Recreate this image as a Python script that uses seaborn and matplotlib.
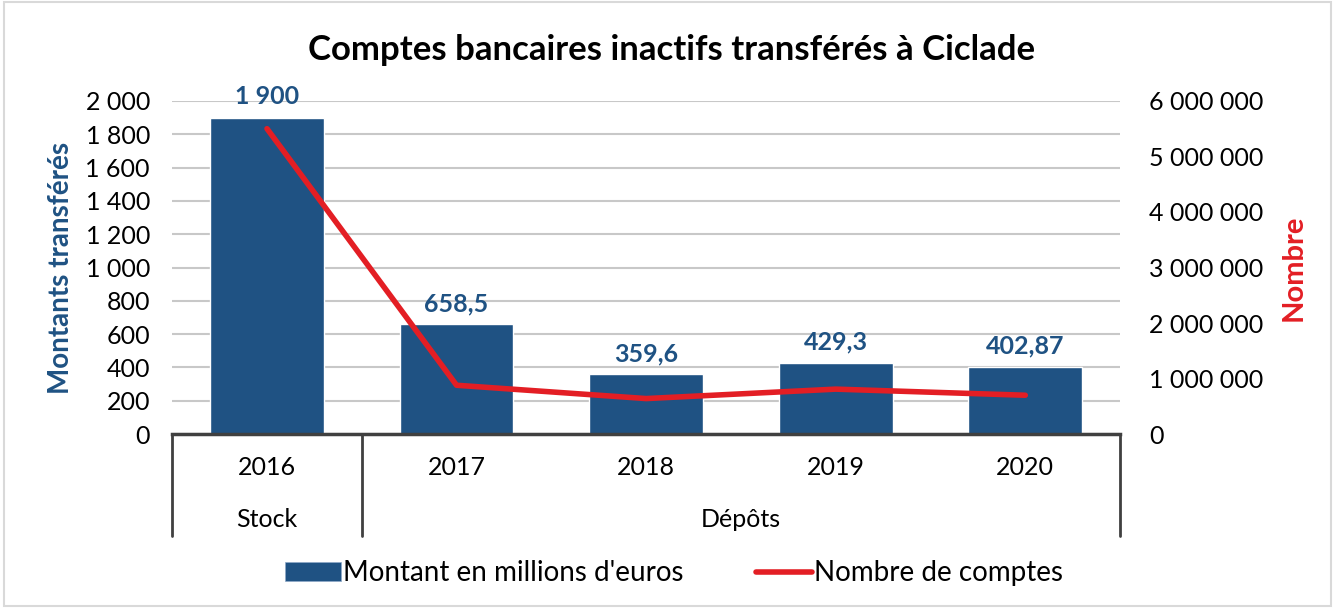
import numpy as np
import pandas as pd
import matplotlib
matplotlib.use("Agg")
import matplotlib.pyplot as plt
import matplotlib.transforms as mtransforms
from matplotlib.patches import Rectangle, Patch
from matplotlib.lines import Line2D
from matplotlib.ticker import FuncFormatter, MultipleLocator
import seaborn as sns

# Data
years = ["2016", "2017", "2018", "2019", "2020"]
groups = ["Stock", "Dépôts"]
group_sizes = [1, 4]
montants = [1900, 658.5, 359.6, 429.3, 402.87]
montant_labels = ["1 900", "658,5", "359,6", "429,3", "402,87"]
nombre_comptes = [5500000, 880000, 640000, 810000, 700000]

bar_color = "#1F5283"
line_color = "#E31E24"
text_color = "#1F5283"

sns.set_theme(style="white")
plt.rcParams["font.family"] = ["Lato", "DejaVu Sans"]
plt.rcParams["text.color"] = "black"

df = pd.DataFrame({
    "annee": years,
    "pos": np.arange(len(years)),
    "montant": montants,
    "nombre": nombre_comptes,
})


def space_thousands(v, pos=None):
    return f"{int(round(v)):,}".replace(",", " ")


fig = plt.figure(figsize=(13.35, 6.08), dpi=100)
ax = fig.add_axes([0.129, 0.286, 0.710, 0.548])

# Bars
sns.barplot(data=df, x="annee", y="montant", color=bar_color,
            width=0.6, saturation=1, ax=ax, zorder=2)
ax.set_xlim(-0.5, len(years) - 0.5)
ax.set_ylim(0, 2000)
ax.yaxis.set_major_locator(MultipleLocator(200))
ax.yaxis.set_major_formatter(FuncFormatter(space_thousands))
ax.grid(axis="y", color="#C8C8C8", linewidth=1.5, zorder=0)
ax.set_axisbelow(True)
for s in ["top", "right", "left"]:
    ax.spines[s].set_visible(False)
ax.spines["bottom"].set_color("#404040")
ax.spines["bottom"].set_linewidth(2.5)
ax.tick_params(axis="y", labelsize=18, colors="black", length=0, pad=16)
ax.tick_params(axis="x", length=0, labelbottom=False)
ax.set_xlabel("")
ax.set_ylabel("Montants transférés", fontsize=20, fontweight="bold",
              color=text_color, labelpad=8)

# Value labels
for p, lab in zip(ax.patches, montant_labels):
    ax.text(p.get_x() + p.get_width() / 2, p.get_height() + 55, lab,
            ha="center", va="bottom", fontsize=18, fontweight="bold",
            color=text_color)

# Line on secondary axis
ax2 = ax.twinx()
sns.lineplot(data=df, x="pos", y="nombre", color=line_color,
             linewidth=4, ax=ax2, zorder=3)
ax2.set_ylim(0, 6000000)
ax2.yaxis.set_major_locator(MultipleLocator(1000000))
ax2.yaxis.set_major_formatter(FuncFormatter(space_thousands))
ax2.tick_params(axis="y", labelsize=18, colors="black", length=0, pad=21)
for s in ["top", "right", "left", "bottom"]:
    ax2.spines[s].set_visible(False)
ax2.set_ylabel("Nombre", fontsize=21, fontweight="bold", color=line_color,
               labelpad=12)
ax2.set_xlim(-0.5, len(years) - 0.5)

# Two-level category axis
trans = mtransforms.blended_transform_factory(ax.transData, ax.transAxes)
box_bottom = -0.305
edges = [-0.5]
for n in group_sizes:
    edges.append(edges[-1] + n)
for e in edges:
    ax.add_line(Line2D([e, e], [0, box_bottom], transform=trans,
                       color="#404040", linewidth=2, clip_on=False))
for i, y in enumerate(years):
    ax.text(i, -0.1, y, transform=trans, ha="center", va="center",
            fontsize=18, color="black")
for g, a, b in zip(groups, edges[:-1], edges[1:]):
    ax.text((a + b) / 2, -0.255, g, transform=trans, ha="center",
            va="center", fontsize=18, color="black")

# Title
fig.text(0.503, 0.918, "Comptes bancaires inactifs transférés à Ciclade",
         ha="center", va="center", fontsize=25, fontweight="bold",
         color="black")

# Legend
handles = [Patch(facecolor=bar_color, edgecolor="#8FA9C8", linewidth=0.5),
           Line2D([0], [0], color=line_color, linewidth=4)]
fig.legend(handles, ["Montant en millions d'euros", "Nombre de comptes"],
           loc="center", bbox_to_anchor=(0.505, 0.057), ncol=2, frameon=False,
           fontsize=20, handlelength=2.0, handletextpad=0.1, columnspacing=2.6,
           labelcolor="black")

# Outer frame
fig.patches.append(Rectangle((0.003, 0.003), 0.994, 0.994,
                             transform=fig.transFigure, fill=False,
                             edgecolor="#D9D9D9", linewidth=1.5))

fig.savefig("out.png", dpi=100)
